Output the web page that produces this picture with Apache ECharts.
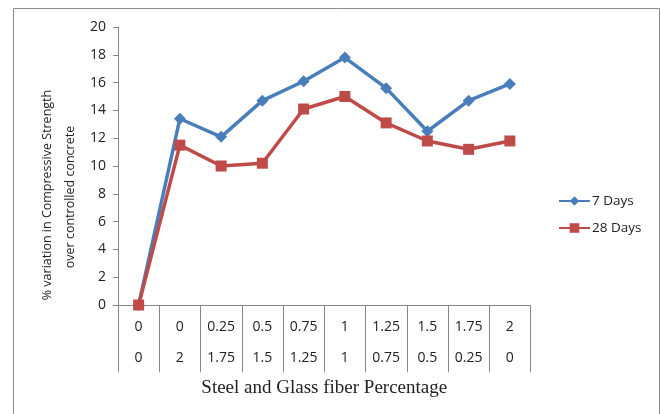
<!DOCTYPE html>
<html>
<head>
<meta charset="utf-8">
<script src="https://cdn.jsdelivr.net/npm/echarts@6/dist/echarts.min.js"></script>
<style>
  html, body { margin: 0; padding: 0; background: #fff; }
  #chart { width: 661px; height: 414px; }
</style>
</head>
<body>
<div id="chart"></div>
<script>
// Fibre content for each mix (row 1: steel %, row 2: glass %)
const steelPct = ['0', '0', '0.25', '0.5', '0.75', '1', '1.25', '1.5', '1.75', '2'];
const glassPct = ['0', '2', '1.75', '1.5', '1.25', '1', '0.75', '0.5', '0.25', '0'];

// % variation in compressive strength over the control mix
const days7 = [0, 13.4, 12.1, 14.7, 16.1, 17.8, 15.6, 12.5, 14.7, 15.9];
const days28 = [0, 11.5, 10.0, 10.2, 14.1, 15.0, 13.1, 11.8, 11.2, 11.8];

const seriesNames = ['7 Days', '28 Days'];
const yMin = 0, yMax = 20, yStep = 2;

const categories = steelPct.map((s, i) => s + '\n' + glassPct[i]);

const chart = echarts.init(document.getElementById('chart'));
const baseFont = 'Open Sans, Liberation Sans, Arial, sans-serif';

chart.setOption({
  animation: false,
  backgroundColor: '#fff',
  textStyle: { fontFamily: baseFont },
  graphic: [
    {
      type: 'rect',
      shape: { x: 13.5, y: 8.5, width: 646, height: 412 },
      style: { fill: 'none', stroke: '#8c8c8c', lineWidth: 1 },
      silent: true
    },
    {
      type: 'text',
      x: 47, y: 195,
      rotation: Math.PI / 2,
      style: {
        text: '% variation in Compressive Strength',
        fontFamily: baseFont, fontSize: 12.5, fill: '#222',
        textAlign: 'center', textVerticalAlign: 'middle'
      }
    },
    {
      type: 'text',
      x: 70, y: 197,
      rotation: Math.PI / 2,
      style: {
        text: 'over controlled concrete',
        fontFamily: baseFont, fontSize: 12.5, fill: '#222',
        textAlign: 'center', textVerticalAlign: 'middle'
      }
    }
  ],
  legend: {
    orient: 'vertical',
    left: 553,
    top: 189,
    itemWidth: 31,
    itemHeight: 12,
    itemGap: 13,
    data: seriesNames,
    textStyle: { fontSize: 13.5, color: '#222', fontFamily: baseFont, padding: [0, 0, 0, -3] }
  },
  grid: { left: 118, top: 27, right: 130.5, bottom: 109 },
  xAxis: {
    type: 'category',
    data: categories,
    boundaryGap: true,
    name: 'Steel and Glass fiber Percentage',
    nameLocation: 'middle',
    nameGap: 74,
    nameTextStyle: {
      fontFamily: 'Liberation Serif, Times New Roman, serif',
      fontSize: 19, color: '#222'
    },
    axisLine: { lineStyle: { color: '#868686', width: 1 } },
    axisTick: {
      show: true, length: 67, interval: 0, alignWithLabel: false,
      lineStyle: { color: '#868686', width: 1 }
    },
    axisLabel: {
      interval: 0, margin: 7, lineHeight: 31,
      fontSize: 14, color: '#222', fontFamily: baseFont
    },
    splitLine: { show: false }
  },
  yAxis: {
    type: 'value',
    min: yMin, max: yMax, interval: yStep,
    axisLine: { show: true, lineStyle: { color: '#868686', width: 1 } },
    axisTick: { show: true, length: 5, lineStyle: { color: '#868686' } },
    axisLabel: { fontSize: 14, color: '#222', margin: 12, fontFamily: baseFont },
    splitLine: { show: false }
  },
  series: [
    {
      name: seriesNames[0],
      type: 'line',
      data: days7,
      symbol: 'diamond',
      symbolSize: 12,
      lineStyle: { color: '#4a7ebb', width: 3.5 },
      itemStyle: { color: '#4a7ebb' },
      z: 3
    },
    {
      name: seriesNames[1],
      type: 'line',
      data: days28,
      symbol: 'rect',
      symbolSize: 11,
      lineStyle: { color: '#be4b48', width: 3.5 },
      itemStyle: { color: '#be4b48' },
      z: 4
    }
  ]
});
</script>
</body>
</html>
